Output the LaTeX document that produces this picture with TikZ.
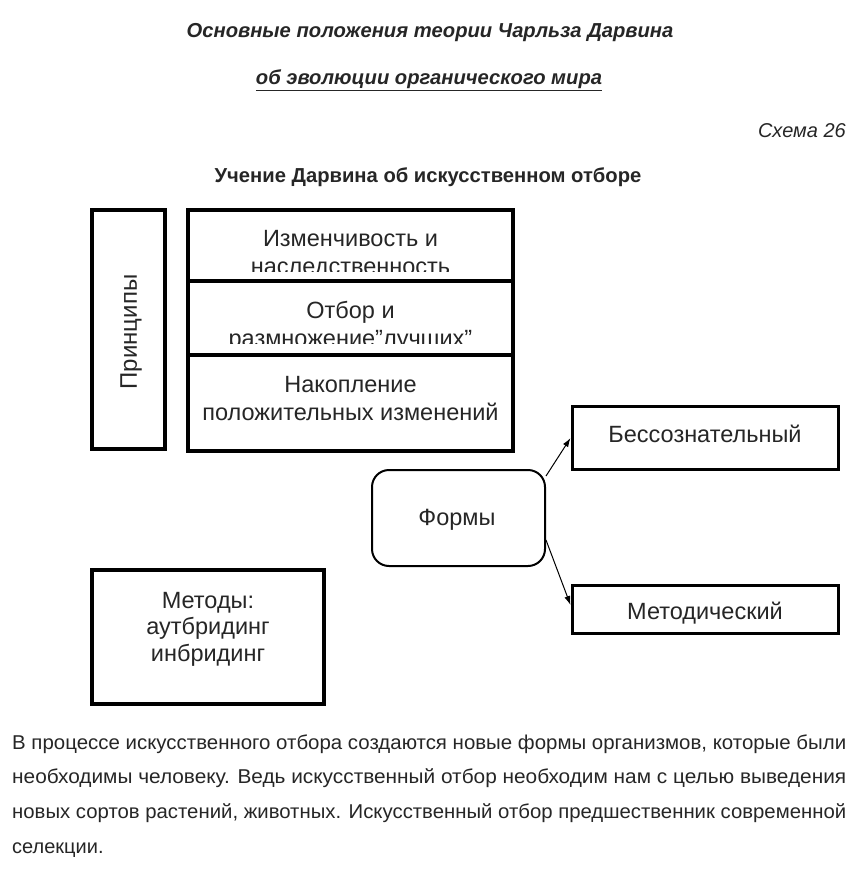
\documentclass[tikz,border=0pt]{standalone}
\usepackage{fontspec}
\setmainfont{Liberation Sans}
\usepackage{graphicx}
\usetikzlibrary{positioning,arrows.meta}
\definecolor{inkclr}{RGB}{38,38,38}
\tikzset{
    frame/.style={rectangle,draw=black,line width=3.5pt,inner sep=0pt},
    cell/.style={frame,minimum width=325pt},
    formbox/.style={rectangle,draw=black,line width=2pt,rounded corners=17pt,minimum width=173pt,minimum height=96pt},
    txt/.style={text=inkclr,font=\fontsize{23.5}{28}\selectfont,align=center,inner sep=0pt},
    head/.style={text=inkclr,inner sep=0pt,anchor=base},
    parline/.style={text=inkclr,inner sep=0pt,anchor=base west,font=\fontsize{20}{28}\selectfont},
    edge/.style={-{Latex[length=9pt,width=6pt]},line width=1pt},
}

\begin{document}
\begin{tikzpicture}[x=1pt,y=-1pt]
\useasboundingbox[fill=white] (0,0) rectangle (857,888);

% headings
\node[head,font=\fontsize{20.2}{24}\selectfont\bfseries\itshape] (title) at (430,38) {Основные положения теории Чарльза Дарвина};
\node[head,font=\fontsize{20.2}{24}\selectfont\bfseries\itshape] (subtitle) at (429,85) {\underline{об эволюции органического мира}};
\node[head,anchor=base east,font=\fontsize{20}{24}\selectfont\itshape] (scheme) at (846,137) {Схема 26};
\node[head,font=\fontsize{20.2}{24}\selectfont\bfseries] (teach) at (428,182) {Учение Дарвина об искусственном отборе};

% principles
\node[frame,minimum width=73pt,minimum height=239pt] (princ) at (128.5,329.5) {};
\node[txt,rotate=90,font=\fontsize{24}{28}\selectfont] (printxt) at (131,332) {Принципы};

\node[cell,minimum height=71pt] (var) at (350.5,245.5) {};
\node[cell,minimum height=74pt] (sel) at (350.5,318) {};
\node[cell,minimum height=96pt] (acc) at (350.5,403) {};

\begin{scope}
\clip (var.north west) rectangle (513,271);
\node[txt] (vartxt) at (350.5,255) {Изменчивость и\\наследственность};
\end{scope}
\begin{scope}
\clip (sel.north west) rectangle (513,343);
\node[txt] (seltxt) at (350.5,326) {Отбор и\\размножение”лучших”};
\end{scope}
\node[txt] (acctxt) at (350.5,399) {Накопление\\положительных изменений};

% forms
\node[formbox] (forms) at (458.5,518) {};
\node[txt] (formtxt) at (457,520) {Формы};
\node[frame,line width=3pt,minimum width=266pt,minimum height=63pt] (bess) at (705,438) {};
\node[txt] (besstxt) at (705,434) {Бессознательный};
\node[frame,line width=3pt,minimum width=266pt,minimum height=48pt] (meth) at (705,609) {};
\node[txt] (methtxt) at (705,613) {Методический};

\draw[edge] ([yshift=-7pt]forms.north east) -- (bess.west);
\draw[edge] ([yshift=-22pt]forms.east) -- ([yshift=4pt]meth.west);

% methods
\node[frame,minimum width=232pt,minimum height=134pt] (ways) at (208,637) {};
\node[txt,font=\fontsize{23.5}{26.5}\selectfont] (waystxt) at (208,629) {Методы:\\аутбридинг\\инбридинг};

% text below
\node[parline] (p1) at (12,749) {\resizebox{834pt}{\height}{В процессе искусственного отбора создаются новые формы организмов, которые были}};
\node[parline] (p2) at (12,783) {\resizebox{834pt}{\height}{необходимы человеку. Ведь искусственный отбор необходим нам с целью выведения}};
\node[parline] (p3) at (12,818) {\resizebox{834pt}{\height}{новых сортов растений, животных. Искусственный отбор предшественник современной}};
\node[parline] (p4) at (12,853) {селекции.};
\end{tikzpicture}
\end{document}
